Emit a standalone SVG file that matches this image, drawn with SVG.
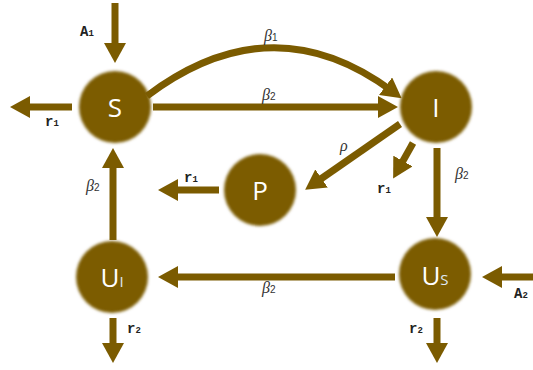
<svg xmlns="http://www.w3.org/2000/svg" width="533" height="370" viewBox="0 0 533 370">
<style>
.c{fill:#7B5B00;filter:url(#blur)}
.e{stroke:#7B5B00;stroke-width:7;fill:none;marker-end:url(#ah)}
.n{font-family:"Open Sans","Liberation Sans",sans-serif;fill:#fff;font-size:26px;text-anchor:middle}
.ns{font-size:15px;fill:#dfe8f5}
.m{font-family:"Liberation Mono",monospace;font-weight:bold;font-size:14px;fill:#222}
.ms{font-size:9px}
.b{font-family:"Liberation Serif",serif;font-style:italic;font-size:16px;fill:#333}
.bs{font-family:"Liberation Sans",sans-serif;font-style:normal;font-size:10px}
</style>
<defs>
<filter id="blur" x="-20%" y="-20%" width="140%" height="140%"><feGaussianBlur stdDeviation="1.6"/></filter>
<marker id="ah" markerUnits="userSpaceOnUse" viewBox="0 0 20 22" refX="8" refY="11" markerWidth="20" markerHeight="22" orient="auto">
<path d="M0,0 L20,11 L0,22 z" fill="#7B5B00"/>
</marker>
</defs>
<rect width="533" height="370" fill="#fff"/>
<g id="connectors">
<line class="e" x1="115" y1="3" x2="115" y2="51"/>
<line class="e" x1="72" y1="107" x2="22" y2="107"/>
<path class="e" d="M147,96 Q272,2 392,91"/>
<line class="e" x1="153" y1="107" x2="386" y2="107"/>
<line class="e" x1="400" y1="124" x2="315" y2="183"/>
<line class="e" x1="413" y1="143" x2="399" y2="168"/>
<line class="e" x1="437" y1="148" x2="437" y2="225"/>
<line class="e" x1="219" y1="190" x2="170" y2="190"/>
<line class="e" x1="113" y1="240" x2="113" y2="160"/>
<line class="e" x1="395" y1="277" x2="170" y2="277"/>
<line class="e" x1="533" y1="277" x2="494" y2="277"/>
<line class="e" x1="113" y1="318" x2="113" y2="351"/>
<line class="e" x1="437" y1="318" x2="437" y2="351"/>
</g>
<g id="labels">
<text class="m" x="80" y="36">A<tspan class="ms">1</tspan></text>
<text class="m" x="45" y="126">r<tspan class="ms">1</tspan></text>
<text class="b" x="264" y="41">β<tspan class="bs">1</tspan></text>
<text class="b" x="262" y="100">β<tspan class="bs">2</tspan></text>
<text class="b" x="340" y="151">ρ</text>
<text class="m" x="377" y="193">r<tspan class="ms">1</tspan></text>
<text class="b" x="455" y="179">β<tspan class="bs">2</tspan></text>
<text class="m" x="184" y="182">r<tspan class="ms">1</tspan></text>
<text class="b" x="86" y="191">β<tspan class="bs">2</tspan></text>
<text class="b" x="262" y="293">β<tspan class="bs">2</tspan></text>
<text class="m" x="514" y="298">A<tspan class="ms">2</tspan></text>
<text class="m" x="127" y="333">r<tspan class="ms">2</tspan></text>
<text class="m" x="409" y="333">r<tspan class="ms">2</tspan></text>
</g>
<g id="S"><circle class="c" cx="115" cy="107" r="36"/><text class="n" x="115" y="117">S</text></g>
<g id="I"><circle class="c" cx="436" cy="107" r="36"/><text class="n" x="436" y="117">I</text></g>
<g id="P"><circle class="c" cx="260" cy="190" r="36"/><text class="n" x="260" y="200">P</text></g>
<g id="UI"><circle class="c" cx="112" cy="277" r="36"/><text class="n" x="112" y="287">U<tspan class="ns">I</tspan></text></g>
<g id="US"><circle class="c" cx="435" cy="274" r="36"/><text class="n" x="435" y="285">U<tspan class="ns">S</tspan></text></g>
</svg>
